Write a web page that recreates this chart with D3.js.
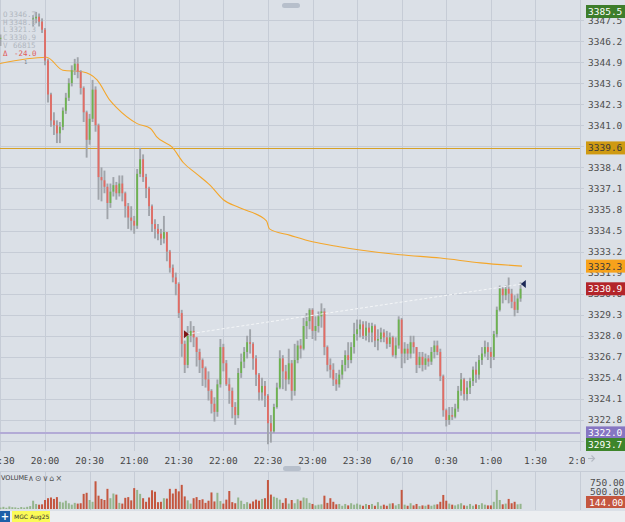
<!DOCTYPE html>
<html>
<head>
<meta charset="utf-8">
<script src="https://cdn.jsdelivr.net/npm/d3@7"></script>
<style>
html,body{margin:0;padding:0;background:#dbe0e7;overflow:hidden}
svg{display:block}
</style>
</head>
<body>
<svg id="chart" width="625" height="522"></svg>
<script>
'use strict'

// 2 minute bars, minutes counted from 20:00, first bar at 19:30
const barStart = -30
const barStep = 2

const closes = [
  3346.4, null, null, null, null, null, null, null, null, null, null,
  3347.6, 3347.7, 3347.4, 3346.9, 3345.0, 3342.9, 3341.3, 3341.0, 3340.5, 3340.9,
  3341.9, 3342.7, 3343.6, 3344.4, 3344.8, 3344.3, 3343.3, 3341.8, 3340.1, 3341.4,
  3343.2, 3341.0, 3337.8, 3337.6, 3337.2, 3336.2, 3336.9, 3337.3, 3336.8, 3337.4,
  3336.8, 3336.0, 3335.3, 3335.1, 3334.8, 3338.0, 3338.9, 3337.8, 3337.1, 3336.0,
  3334.9, 3334.6, 3334.3, 3334.0, 3334.4, 3333.2, 3332.2, 3331.6, 3331.2, 3329.4,
  3327.5, 3326.2, 3328.0, 3328.3, 3327.9, 3327.0, 3326.5, 3326.0, 3325.3, 3324.6,
  3323.8, 3323.3, 3325.0, 3327.3, 3326.3, 3325.0, 3324.6, 3323.6, 3323.1, 3325.7,
  3326.4, 3327.0, 3327.6, 3327.5, 3326.6, 3325.6, 3324.5, 3324.9, 3324.3, 3322.6,
  3322.1, 3323.6, 3324.8, 3326.6, 3325.8, 3325.3, 3326.3, 3324.6, 3326.5, 3327.4,
  3327.2, 3328.6, 3328.9, 3329.6, 3328.3, 3328.6, 3329.2, 3329.5, 3327.3, 3326.2,
  3325.9, 3325.3, 3325.0, 3325.6, 3326.2, 3326.8, 3326.5, 3327.3, 3328.1, 3328.4,
  3328.7, 3328.0, 3328.5, 3328.2, 3328.6, 3327.7, 3327.8, 3328.2, 3327.9, 3327.5,
  3327.9, 3326.8, 3327.4, 3329.0, 3326.9, 3327.2, 3326.9, 3327.6, 3327.3, 3326.2,
  3326.7, 3326.2, 3326.6, 3326.4, 3327.0, 3327.4, 3327.0, 3325.5, 3323.4, 3322.8,
  3323.1, 3323.0, 3323.5, 3324.6, 3325.3, 3324.4, 3324.8, 3325.2, 3325.9, 3325.6,
  3326.5, 3326.9, 3327.3, 3327.0, 3326.7, 3328.1, 3329.6, 3330.9, 3330.5, 3330.9,
  3330.6, 3330.1, 3329.6, 3330.3, 3330.9
]

const highs = [
  3346.6, null, null, null, null, null, null, null, null, null, null,
  3347.8, 3348.0, 3347.9, 3347.6, 3347.0, 3345.1, 3343.0, 3341.8, 3341.3, 3341.2,
  3342.1, 3343.0, 3343.9, 3344.7, 3345.1, 3345.2, 3344.4, 3343.4, 3341.9, 3341.7,
  3343.8, 3343.4, 3341.1, 3338.4, 3338.2, 3337.4, 3337.4, 3337.8, 3337.5, 3337.9,
  3337.9, 3336.9, 3336.2, 3336.0, 3335.4, 3338.3, 3339.6, 3339.2, 3338.0, 3337.2,
  3336.1, 3335.2, 3334.9, 3334.6, 3335.4, 3334.4, 3333.3, 3332.4, 3331.9, 3331.3,
  3329.6, 3327.7, 3328.6, 3328.9, 3328.6, 3327.9, 3327.2, 3326.6, 3326.1, 3325.8,
  3324.7, 3324.2, 3325.3, 3327.8, 3327.5, 3326.5, 3325.4, 3324.8, 3323.9, 3326.0,
  3326.9, 3327.3, 3328.0, 3328.4, 3327.6, 3326.8, 3325.7, 3325.4, 3325.2, 3324.4,
  3323.1, 3323.8, 3325.1, 3327.1, 3326.8, 3326.2, 3327.2, 3326.5, 3327.5, 3327.7,
  3327.8, 3329.1, 3329.4, 3329.7, 3329.7, 3329.2, 3329.5, 3330.0, 3329.7, 3327.4,
  3326.6, 3326.3, 3325.7, 3325.9, 3326.5, 3327.1, 3327.6, 3327.6, 3328.8, 3329.0,
  3329.0, 3328.9, 3328.9, 3328.8, 3328.8, 3328.7, 3328.4, 3328.5, 3328.4, 3328.3,
  3328.2, 3328.0, 3327.9, 3329.2, 3329.1, 3327.6, 3327.5, 3328.0, 3328.0, 3327.3,
  3327.0, 3327.0, 3326.9, 3326.8, 3327.3, 3327.7, 3327.7, 3327.2, 3325.6, 3323.5,
  3323.6, 3323.6, 3323.8, 3324.9, 3325.7, 3325.4, 3325.2, 3325.4, 3326.1, 3326.4,
  3326.8, 3327.3, 3327.7, 3327.6, 3327.3, 3328.3, 3329.8, 3331.1, 3331.0, 3331.1,
  3331.6, 3330.9, 3330.5, 3330.6, 3331.3
]

const lows = [
  3345.9, null, null, null, null, null, null, null, null, null, null,
  3347.1, 3347.3, 3347.1, 3346.7, 3344.7, 3342.4, 3340.9, 3340.4, 3339.9, 3339.9,
  3340.7, 3341.7, 3342.5, 3343.4, 3344.1, 3343.9, 3342.9, 3341.2, 3339.0, 3339.8,
  3341.2, 3340.6, 3336.4, 3336.3, 3336.8, 3335.2, 3335.9, 3336.6, 3336.4, 3336.6,
  3336.3, 3335.3, 3334.6, 3334.5, 3334.3, 3334.6, 3337.8, 3337.5, 3336.5, 3335.4,
  3334.4, 3334.0, 3333.9, 3333.6, 3333.7, 3332.6, 3331.9, 3331.3, 3330.5, 3329.1,
  3326.7, 3325.7, 3326.0, 3327.6, 3327.3, 3326.1, 3325.7, 3324.9, 3324.8, 3324.0,
  3323.2, 3322.7, 3323.0, 3324.8, 3325.8, 3324.9, 3323.8, 3322.9, 3322.5, 3322.9,
  3325.4, 3326.0, 3326.6, 3326.9, 3325.9, 3324.9, 3324.0, 3324.0, 3323.6, 3321.3,
  3321.4, 3322.0, 3323.5, 3324.7, 3324.7, 3324.6, 3325.0, 3324.0, 3324.3, 3326.3,
  3326.6, 3327.1, 3327.8, 3328.4, 3327.8, 3327.7, 3328.2, 3328.5, 3326.8, 3325.8,
  3325.4, 3324.9, 3324.6, 3324.8, 3325.3, 3325.8, 3326.0, 3326.3, 3326.9, 3327.7,
  3327.9, 3327.8, 3327.7, 3327.6, 3327.6, 3327.3, 3327.1, 3327.6, 3327.6, 3327.2,
  3327.3, 3326.7, 3326.6, 3327.2, 3326.0, 3326.3, 3326.5, 3326.6, 3326.9, 3325.7,
  3326.0, 3325.8, 3325.9, 3326.1, 3326.2, 3326.6, 3326.8, 3325.2, 3323.0, 3322.4,
  3322.5, 3322.8, 3322.9, 3323.3, 3324.3, 3324.0, 3324.0, 3324.4, 3324.9, 3325.1,
  3325.3, 3326.2, 3326.7, 3326.5, 3326.0, 3326.5, 3327.9, 3329.5, 3330.0, 3330.2,
  3330.0, 3329.7, 3329.2, 3329.4, 3330.1
]

const volumes = [
  40, 60, 35, 70, 50, 45, 30, 55, 40, 60, 80,
  230, 140, 120, 130, 250, 300, 320, 280, 330, 200,
  180, 230, 160, 120, 170, 150, 160, 420, 450, 250,
  200, 770, 370, 280, 250, 560, 300, 430, 400, 170,
  150, 310, 330, 240, 580, 530, 420, 300, 200, 320,
  520, 480, 190, 200, 300, 290, 560, 430, 560, 490,
  670, 350, 240, 150, 300, 330, 250, 270, 170, 230,
  460, 210, 450, 220, 150, 260, 500, 190, 160, 320,
  230, 140, 190, 150, 210, 260, 230, 280, 300, 805,
  400, 340, 310, 260, 170, 300, 150, 250, 160, 270,
  230, 320, 300, 170, 140, 100, 120, 130, 370, 170,
  300, 200, 130, 140, 90, 140, 100, 160, 120, 150,
  120, 90, 140, 110, 140, 90, 190, 90, 120, 90,
  150, 160, 100, 140, 530, 120, 90, 160, 100, 140,
  80, 100, 90, 120, 90, 120, 130, 200, 390, 230,
  150, 120, 100, 130, 160, 100, 90, 140, 90, 130,
  110, 160, 120, 100, 100, 200, 530, 250, 130, 150,
  280, 160, 200, 130, 144
]

// moving average, read at these minutes
const maMinutes = [-31, 1, 12, 25, 35, 44, 48, 62, 71, 75, 86, 93, 102, 111, 120, 131, 149, 151, 165, 180, 198, 212, 239, 266, 293, 321]
const maValues = [3344.8, 3345.2, 3344.4, 3344.3, 3343.8, 3342.5, 3342.1, 3341.1, 3340.8, 3340.3, 3339.6, 3338.7, 3338.0, 3337.3, 3336.4, 3335.9, 3335.1, 3334.6, 3334.2, 3333.8, 3333.5, 3333.3, 3333.0, 3332.8, 3332.5, 3332.3]

const yTicks = [3347.5, 3346.2, 3344.9, 3343.6, 3342.3, 3341.0, 3339.7, 3338.4, 3337.1, 3335.8, 3334.5, 3333.2, 3331.9, 3330.6, 3329.3, 3328.0, 3326.7, 3325.4, 3324.1, 3322.8, 3321.5]
const xTickMinutes = [-30, 0, 30, 60, 90, 120, 150, 180, 210, 240, 270, 300, 330, 360]
const xTickLabels = ["19:30", "20:00", "20:30", "21:00", "21:30", "22:00", "22:30", "23:00", "23:30", "6/10", "0:30", "1:00", "1:30", "2:00"]

const tagValues = [3385.5, 3339.6, 3332.3, 3330.9, 3322.0, 3293.7]
const goldLevel = 3339.6
const purpleLevel = 3322.0
const trendStart = [95.5, 3328.1]
const trendEnd = [321.5, 3331.2]
const volTicks = [750, 500]
const lastVolume = 144

const legendKeys = ["O", "H", "L", "C", "V"]
const legendValues = ["3346.7", "3348.0", "3321.3", "3330.9", "66815"]
const legendDelta = "-24.0"

const tagStyle = {
  "3385.5": {fill: "#3d7d2b", text: "#ffffff"},
  "3339.6": {fill: "#cf9a12", text: "#3a3a3a"},
  "3332.3": {fill: "#f7a21b", text: "#3a3a3a"},
  "3330.9": {fill: "#b3242a", text: "#ffffff"},
  "3322.0": {fill: "#8676c2", text: "#ffffff"},
  "3293.7": {fill: "#3d852b", text: "#ffffff"}
}

const BG = "#dbe0e7"
const GRID = "#c6ccd6"
const MONO = "DejaVu Sans Mono, monospace"
const UP = "#6db34f"
const DOWN = "#e46b63"
const WICK = "#a0a4aa"

const plotRight = 580
const priceBottom = 451

const svg = d3.select("#chart")

const x = d3.scaleLinear().domain([-30.3, 360]).range([0, plotRight])
const y = d3.scaleLinear().domain([3321.5, 3347.5]).range([441, 20])
const yTag = d3.scaleLinear().domain([y.invert(444.5), y.invert(11.5)]).range([444.5, 11.5]).clamp(true)
const yVol = d3.scaleLinear().domain([0, 750]).range([509, 482])

const bars = closes.map((c, i) => ({
  t: barStart + i * barStep,
  c: c, h: highs[i], l: lows[i], v: volumes[i],
  o: i > 0 && closes[i - 1] != null ? closes[i - 1] : (c != null ? c : closes[i - 1])
}))
const priceBars = bars.filter(d => d.c != null)

// tick labels that sit fully under a coloured tag are left out
const visibleTicks = yTicks.filter(t => !tagValues.some(v => Math.abs(yTag(v) - y(t)) < 4))

svg.append("rect").attr("width", 625).attr("height", 522).attr("fill", BG)

const defs = svg.append("defs")
defs.append("clipPath").attr("id", "priceClip")
  .append("rect").attr("x", 0).attr("y", 0).attr("width", plotRight).attr("height", priceBottom)
defs.append("clipPath").attr("id", "xLabClip")
  .append("rect").attr("x", 0).attr("y", 450).attr("width", 585).attr("height", 20)

// grid
const grid = svg.append("g")
grid.selectAll(".hgrid").data(yTicks).join("line")
  .attr("x1", 0).attr("x2", 584)
  .attr("y1", d => Math.round(y(d)) + 0.5).attr("y2", d => Math.round(y(d)) + 0.5)
  .attr("stroke", GRID)
grid.selectAll(".vgrid").data(xTickMinutes).join("line")
  .attr("x1", d => Math.round(x(d)) + 0.5).attr("x2", d => Math.round(x(d)) + 0.5)
  .attr("y1", 0).attr("y2", priceBottom)
  .attr("stroke", GRID)

const plot = svg.append("g").attr("clip-path", "url(#priceClip)")

plot.append("line")
  .attr("x1", 0).attr("x2", plotRight)
  .attr("y1", Math.round(y(goldLevel)) + 0.5).attr("y2", Math.round(y(goldLevel)) + 0.5)
  .attr("stroke", "#d6a126").attr("stroke-width", 1)
plot.append("line")
  .attr("x1", 0).attr("x2", plotRight)
  .attr("y1", y(purpleLevel)).attr("y2", y(purpleLevel))
  .attr("stroke", "#b3abd6").attr("stroke-width", 2)

const maLine = d3.line().x(d => x(d[0])).y(d => y(d[1])).curve(d3.curveMonotoneX)
plot.append("path")
  .datum(maMinutes.map((m, i) => [m, maValues[i]]))
  .attr("d", maLine)
  .attr("fill", "none").attr("stroke", "#f4a62a").attr("stroke-width", 1.1)

// candles
const candles = plot.append("g")
candles.selectAll(".wick").data(priceBars).join("line")
  .attr("x1", d => x(d.t)).attr("x2", d => x(d.t))
  .attr("y1", d => y(d.h)).attr("y2", d => y(d.l))
  .attr("stroke", WICK).attr("stroke-width", 1.9)
candles.selectAll(".body").data(priceBars).join("rect")
  .attr("x", d => x(d.t) - 0.9).attr("width", 1.8)
  .attr("y", d => y(Math.max(d.o, d.c)))
  .attr("height", d => Math.max(1, Math.abs(y(d.o) - y(d.c))))
  .attr("fill", d => d.c >= d.o ? UP : DOWN)

// trend line
plot.append("line")
  .attr("x1", x(trendStart[0])).attr("y1", y(trendStart[1]))
  .attr("x2", x(trendEnd[0])).attr("y2", y(trendEnd[1]))
  .attr("stroke", "#f4f6f8").attr("stroke-width", 1).attr("stroke-dasharray", "3,2")
const tx0 = x(trendStart[0]), ty0 = y(trendStart[1])
const tx1 = x(trendEnd[0]), ty1 = y(trendEnd[1])
svg.append("path")
  .attr("d", `M${tx0 - 3},${ty0 - 4}L${tx0 + 2},${ty0}L${tx0 - 3},${ty0 + 4}Z`)
  .attr("fill", "#7d1616")
svg.append("path")
  .attr("d", `M${tx1 + 3},${ty1 - 4}L${tx1 - 2},${ty1}L${tx1 + 3},${ty1 + 4}Z`)
  .attr("fill", "#1c2856")

// legend top left
const legend = svg.append("g").attr("font-family", MONO).attr("font-size", 7.5).attr("fill", "#b1b7c0")
const legendBase = [16.7, 24.7, 32.2, 39.7, 47.7]
legend.selectAll(".lk").data(legendKeys).join("text")
  .attr("x", 3).attr("y", (d, i) => legendBase[i]).text(d => d)
legend.selectAll(".lv").data(legendValues).join("text")
  .attr("x", (d, i) => i === 4 ? 13 : 9).attr("y", (d, i) => legendBase[i]).text(d => d)
legend.append("text").attr("x", 3).attr("y", 55.7).attr("fill", "#e05a5a").text("Δ")
legend.append("text").attr("x", 14).attr("y", 55.7).attr("fill", "#e05a5a").text(legendDelta)
legend.append("text").attr("x", 24).attr("y", 64).attr("font-size", 5.5).attr("fill", "#7e848d").text("1")

// handles
svg.append("rect").attr("x", 282).attr("y", 3).attr("width", 18).attr("height", 5).attr("rx", 2.5).attr("fill", "#b7bfcb")

// right price axis
svg.append("g").attr("font-family", MONO).attr("font-size", 9.5).attr("fill", "#4e4e4e")
  .selectAll("text").data(visibleTicks).join("text")
  .attr("x", 588).attr("y", d => y(d) + 3.5)
  .text(d => d.toFixed(1))

const tags = svg.append("g").attr("font-family", MONO).attr("font-size", 9.5)
tagValues.forEach(v => {
  const st = tagStyle[v.toFixed(1)]
  const yc = yTag(v)
  tags.append("rect").attr("x", 586).attr("y", yc - 6.5).attr("width", 39).attr("height", 13).attr("fill", st.fill)
  tags.append("text").attr("x", 588).attr("y", yc + 3.5).attr("fill", st.text).text(v.toFixed(1))
})

// time axis
svg.append("g").attr("clip-path", "url(#xLabClip)")
  .attr("font-family", MONO).attr("font-size", 9.5).attr("fill", "#454545")
  .selectAll("text").data(xTickMinutes).join("text")
  .attr("x", d => x(d)).attr("y", 464).attr("text-anchor", "middle")
  .text((d, i) => xTickLabels[i])
svg.append("path").attr("d", "M588,458.5H594M591.5,455.5L594.5,458.5L591.5,461.5")
  .attr("fill", "none").attr("stroke", "#b3b9c2").attr("stroke-width", 1.2)
svg.append("rect").attr("x", 283).attr("y", 466).attr("width", 18).attr("height", 5).attr("rx", 2.5).attr("fill", "#b7bfcb")

// volume panel
const volTop = 472
svg.append("line").attr("x1", 0).attr("x2", 625).attr("y1", volTop - 0.5).attr("y2", volTop - 0.5).attr("stroke", GRID)
svg.append("g").selectAll("line").data(xTickMinutes).join("line")
  .attr("x1", d => Math.round(x(d)) + 0.5).attr("x2", d => Math.round(x(d)) + 0.5)
  .attr("y1", volTop).attr("y2", 510)
  .attr("stroke", GRID)

svg.append("g").selectAll("rect").data(bars).join("rect")
  .attr("x", d => x(d.t) - 1).attr("width", 2)
  .attr("y", d => yVol(d.v)).attr("height", d => yVol(0) - yVol(d.v))
  .attr("fill", d => d.c != null && d.c < d.o ? "#c4563f" : "#94b58c")

svg.append("text").attr("x", 1).attr("y", 480).attr("font-family", "DejaVu Sans, sans-serif")
  .attr("font-size", 6.5).attr("fill", "#3a3a3a").text("VOLUME")
svg.append("text").attr("x", 28).attr("y", 481).attr("font-family", "DejaVu Sans, sans-serif")
  .attr("font-size", 8).attr("fill", "#555").attr("letter-spacing", 1).text("∧⊙∨⌂×")

svg.append("g").attr("font-family", MONO).attr("font-size", 9.5).attr("fill", "#4e4e4e")
  .selectAll("text").data(volTicks).join("text")
  .attr("x", 590).attr("y", d => yVol(d) + 3.5)
  .text(d => d.toFixed(2))
svg.append("rect").attr("x", 586).attr("y", 496).attr("width", 39).attr("height", 12).attr("fill", "#c4563f")
svg.append("text").attr("x", 589).attr("y", 505.5).attr("font-family", MONO).attr("font-size", 9.5)
  .attr("fill", "#fff").text(lastVolume.toFixed(2))

// footer
svg.append("rect").attr("x", 0).attr("y", 511).attr("width", 625).attr("height", 11).attr("fill", "#eceef1")
svg.append("rect").attr("x", 0).attr("y", 511).attr("width", 10).attr("height", 11).attr("fill", "#1d5fa8")
svg.append("text").attr("x", 5).attr("y", 520).attr("text-anchor", "middle").attr("font-family", "DejaVu Sans, sans-serif")
  .attr("font-size", 10).attr("font-weight", "bold").attr("fill", "#fff").text("+")
svg.append("rect").attr("x", 12).attr("y", 511).attr("width", 38).attr("height", 11).attr("fill", "#fbfb57")
svg.append("text").attr("x", 14).attr("y", 519).attr("font-family", "DejaVu Sans, sans-serif")
  .attr("font-size", 6).attr("fill", "#333").text("MGC Aug25")
</script>
</body>
</html>
